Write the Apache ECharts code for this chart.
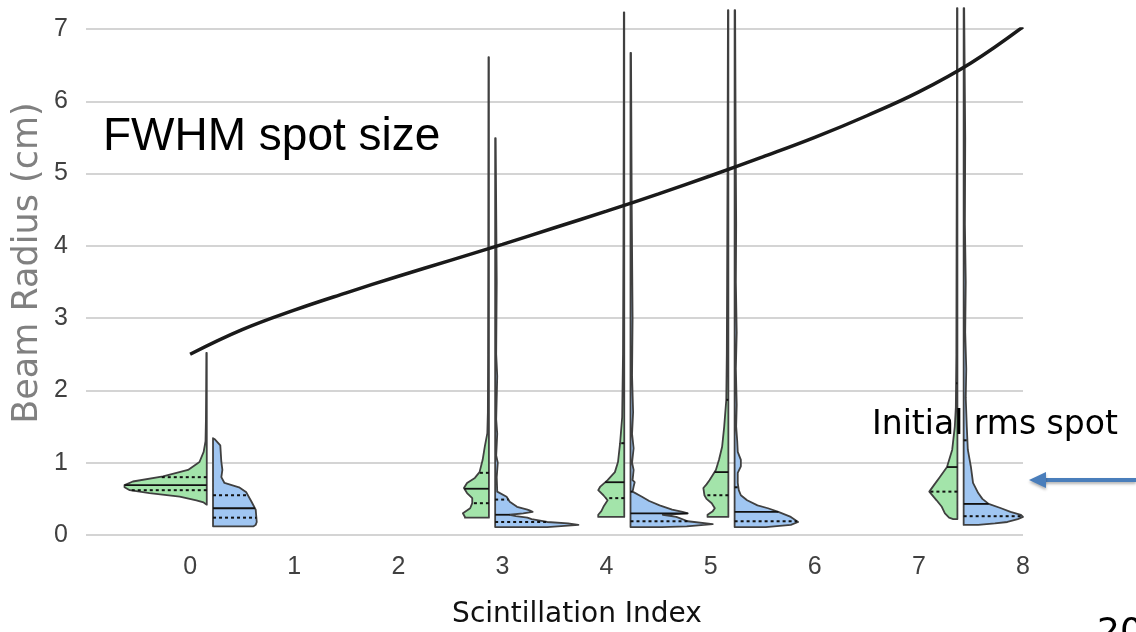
<!DOCTYPE html>
<html>
<head>
<meta charset="utf-8">
<script src="https://cdn.jsdelivr.net/npm/echarts@6/dist/echarts.min.js"></script>
<style>
  html, body { margin: 0; padding: 0; background: #fff; }
  #chart { width: 1136px; height: 632px; }
</style>
</head>
<body>
<div id="chart"></div>
<script>
// x positions of the split violins (scintillation index)
const violinCenters = [0.19, 2.9, 4.2, 5.2, 7.4];

// half profiles: [beam radius (cm), half width in index units], bottom -> top
const greenProfiles = [
  [[0.42, 0], [0.45, 0.03], [0.48, 0.10], [0.53, 0.26], [0.58, 0.55], [0.62, 0.74], [0.66, 0.79], [0.69, 0.79], [0.74, 0.71], [0.81, 0.42], [0.90, 0.18], [1.01, 0.07], [1.15, 0.03], [1.3, 0.012], [1.6, 0.008], [2.0, 0.006], [2.52, 0.004]],
  [[0.24, 0], [0.24, 0.23], [0.25, 0.23], [0.30, 0.25], [0.37, 0.18], [0.44, 0.16], [0.51, 0.16], [0.58, 0.21], [0.65, 0.24], [0.72, 0.21], [0.79, 0.135], [0.87, 0.09], [1.04, 0.06], [1.22, 0.04], [1.41, 0.015], [1.7, 0.01], [2.5, 0.008], [4.0, 0.006], [6.61, 0.004]],
  [[0.25, 0], [0.25, 0.25], [0.28, 0.25], [0.33, 0.22], [0.39, 0.20], [0.48, 0.16], [0.55, 0.20], [0.62, 0.25], [0.67, 0.23], [0.76, 0.16], [0.87, 0.09], [1.01, 0.06], [1.27, 0.04], [1.63, 0.02], [2.5, 0.012], [4.0, 0.008], [6.0, 0.005], [7.23, 0.004]],
  [[0.25, 0], [0.25, 0.20], [0.28, 0.20], [0.33, 0.15], [0.37, 0.13], [0.44, 0.16], [0.50, 0.21], [0.55, 0.23], [0.65, 0.24], [0.70, 0.21], [0.76, 0.18], [0.90, 0.12], [1.04, 0.09], [1.22, 0.06], [1.5, 0.04], [1.87, 0.02], [2.5, 0.015], [3.5, 0.012], [5.0, 0.008], [7.26, 0.004]],
  [[0.22, 0], [0.22, 0.04], [0.24, 0.08], [0.30, 0.12], [0.39, 0.15], [0.48, 0.20], [0.60, 0.27], [0.70, 0.22], [0.80, 0.17], [0.94, 0.10], [1.18, 0.05], [1.5, 0.025], [1.77, 0.015], [2.5, 0.01], [4.0, 0.008], [6.0, 0.005], [7.29, 0.004]]
];
const blueProfiles = [
  [[0.12, 0], [0.12, 0.39], [0.14, 0.41], [0.18, 0.42], [0.35, 0.41], [0.46, 0.37], [0.59, 0.32], [0.66, 0.25], [0.72, 0.11], [0.80, 0.08], [0.90, 0.09], [1.01, 0.08], [1.24, 0.07], [1.32, 0.02], [1.34, 0]],
  [[0.11, 0], [0.11, 0.5], [0.14, 0.80], [0.16, 0.7], [0.18, 0.50], [0.22, 0.35], [0.24, 0.31], [0.26, 0.2], [0.28, 0.14], [0.30, 0.27], [0.32, 0.36], [0.34, 0.33], [0.35, 0.31], [0.39, 0.21], [0.46, 0.14], [0.53, 0.11], [0.60, 0.02], [0.8, 0.015], [1.0, 0.025], [1.1, 0.01], [1.4, 0.02], [1.6, 0.01], [2.2, 0.02], [2.5, 0.01], [3.5, 0.015], [4.5, 0.01], [5.49, 0.005]],
  [[0.11, 0], [0.11, 0.3], [0.12, 0.54], [0.15, 0.79], [0.19, 0.55], [0.25, 0.44], [0.28, 0.31], [0.30, 0.55], [0.32, 0.50], [0.35, 0.40], [0.41, 0.28], [0.47, 0.18], [0.53, 0.11], [0.60, 0.02], [0.67, 0.03], [0.73, 0.04], [0.76, 0.02], [0.9, 0.03], [1.0, 0.015], [1.2, 0.03], [1.4, 0.015], [1.7, 0.025], [2.2, 0.015], [3.0, 0.02], [4.5, 0.012], [6.67, 0.005]],
  [[0.11, 0], [0.11, 0.3], [0.14, 0.54], [0.18, 0.61], [0.25, 0.54], [0.32, 0.42], [0.37, 0.32], [0.41, 0.22], [0.48, 0.12], [0.55, 0.06], [0.62, 0.04], [0.72, 0.03], [0.86, 0.03], [0.95, 0.06], [1.04, 0.06], [1.15, 0.03], [1.3, 0.025], [1.5, 0.015], [1.8, 0.02], [2.3, 0.012], [2.8, 0.02], [3.5, 0.012], [4.3, 0.015], [5.5, 0.01], [7.26, 0.005]],
  [[0.14, 0], [0.14, 0.14], [0.16, 0.3], [0.18, 0.42], [0.22, 0.52], [0.25, 0.57], [0.28, 0.55], [0.32, 0.45], [0.37, 0.36], [0.43, 0.24], [0.50, 0.18], [0.58, 0.14], [0.72, 0.09], [0.94, 0.07], [1.18, 0.04], [1.5, 0.03], [1.9, 0.02], [2.3, 0.025], [2.8, 0.015], [3.5, 0.02], [4.3, 0.012], [5.5, 0.015], [7.29, 0.005]]
];

// quartiles [q1, median, q3]
const greenQuartiles = [[0.62, 0.69, 0.80], [0.44, 0.64, 0.86], [0.51, 0.73, 1.27], [0.55, 0.87, 1.87], [0.60, 0.94, 2.10]];
const blueQuartiles = [[0.24, 0.37, 0.55], [0.18, 0.28, 0.49], [0.19, 0.30, 0.60], [0.19, 0.32, 0.66], [0.26, 0.43, 1.31]];

// FWHM spot size curve
const curveX = [0, 0.5, 1, 1.5, 2, 2.5, 3, 3.5, 4, 4.5, 5, 5.5, 6, 6.5, 7, 7.5, 8];
const curveY = [2.50, 2.84, 3.11, 3.35, 3.58, 3.80, 4.02, 4.25, 4.48, 4.72, 4.97, 5.23, 5.50, 5.80, 6.13, 6.53, 7.03];

const halfGap = 0.03;

function widthAt(prof, y) {
  for (let k = 0; k < prof.length - 1; k++) {
    const a = prof[k], b = prof[k + 1];
    if (b[0] > a[0] && y >= a[0] && y <= b[0]) {
      return a[1] + (b[1] - a[1]) * (y - a[0]) / (b[0] - a[0]);
    }
  }
  return 0;
}

function halfViolin(sign, profiles, quartiles, fill) {
  return function (params, api) {
    const i = params.dataIndex;
    const prof = profiles[i];
    const edge = violinCenters[i] + sign * halfGap;
    const pts = [api.coord([edge, prof[0][0]])];
    prof.forEach(p => pts.push(api.coord([edge + sign * p[1], p[0]])));
    pts.push(api.coord([edge, prof[prof.length - 1][0]]));
    const children = [{
      type: 'polygon',
      shape: { points: pts },
      style: { fill: fill, stroke: '#404040', lineWidth: 1.8, lineJoin: 'round' }
    }];
    quartiles[i].forEach((q, k) => {
      const w = widthAt(prof, q);
      const p0 = api.coord([edge, q]);
      const p1 = api.coord([edge + sign * w, q]);
      children.push({
        type: 'line',
        shape: { x1: p0[0], y1: p0[1], x2: p1[0], y2: p1[1] },
        style: k === 1
          ? { stroke: '#111', lineWidth: 1.8 }
          : { stroke: '#111', lineWidth: 2, lineDash: [3, 3] }
      });
    });
    return { type: 'group', children: children };
  };
}

const chart = echarts.init(document.getElementById('chart'));

const option = {
  animation: false,
  grid: { left: 86, right: 113, top: 29, bottom: 97 },
  xAxis: {
    type: 'value',
    min: -1,
    max: 8,
    interval: 1,
    axisLine: { show: false },
    axisTick: { show: false },
    splitLine: { show: false },
    axisLabel: {
      showMinLabel: false,
      margin: 20,
      fontSize: 25,
      fontFamily: 'Liberation Sans',
      color: '#404040'
    }
  },
  yAxis: {
    type: 'value',
    min: 0,
    max: 7,
    interval: 1,
    axisLine: { show: false },
    axisTick: { show: false },
    axisLabel: {
      margin: 18,
      fontSize: 25,
      fontFamily: 'Liberation Sans',
      color: '#404040'
    },
    splitLine: { lineStyle: { color: '#d4d4d4', width: 2 } }
  },
  series: [
    {
      type: 'custom',
      name: 'green',
      clip: false,
      renderItem: halfViolin(-1, greenProfiles, greenQuartiles, '#a3e4aa'),
      data: violinCenters.map((c, i) => [c, i]),
      z: 2
    },
    {
      type: 'custom',
      name: 'blue',
      clip: false,
      renderItem: halfViolin(1, blueProfiles, blueQuartiles, '#a0c6f2'),
      data: violinCenters.map((c, i) => [c, i]),
      z: 2
    },
    {
      type: 'line',
      name: 'FWHM',
      smooth: 0.4,
      showSymbol: false,
      lineStyle: { color: '#1a1a1a', width: 3.5 },
      data: curveX.map((x, i) => [x, curveY[i]]),
      z: 5
    }
  ],
  graphic: [
    {
      type: 'text', left: 103, top: 114,
      style: { text: 'FWHM spot size', font: '46px "Liberation Sans"', fill: '#000' }
    },
    {
      type: 'text', x: 28, y: 263, rotation: Math.PI / 2,
      style: { text: 'Beam Radius (cm)', font: '35px "DejaVu Sans"', fill: '#808080', align: 'center', verticalAlign: 'middle' }
    },
    {
      type: 'text', x: 577, y: 615,
      style: { text: 'Scintillation Index', font: '28px "DejaVu Sans"', fill: '#111', align: 'center', verticalAlign: 'middle' }
    },
    {
      type: 'text', x: 872, y: 425, z: 10,
      style: { text: 'Initial rms spot', font: '33px "DejaVu Sans"', fill: '#000', align: 'left', verticalAlign: 'middle' }
    },
    {
      type: 'text', x: 1097, y: 616,
      style: { text: '20', font: '36px "DejaVu Sans"', fill: '#000', align: 'left', verticalAlign: 'top' }
    },
    {
      type: 'group',
      children: [
        {
          type: 'line',
          shape: { x1: 1136, y1: 480, x2: 1040, y2: 480 },
          style: { stroke: '#4a7ebb', lineWidth: 4, shadowBlur: 3, shadowColor: 'rgba(0,0,0,0.3)', shadowOffsetY: 2 }
        },
        {
          type: 'polygon',
          shape: { points: [[1029, 480], [1046, 472], [1046, 488]] },
          style: { fill: '#4a7ebb', shadowBlur: 3, shadowColor: 'rgba(0,0,0,0.3)', shadowOffsetY: 2 }
        }
      ]
    }
  ]
};

chart.setOption(option);
window.addEventListener('resize', () => chart.resize());
</script>
</body>
</html>
